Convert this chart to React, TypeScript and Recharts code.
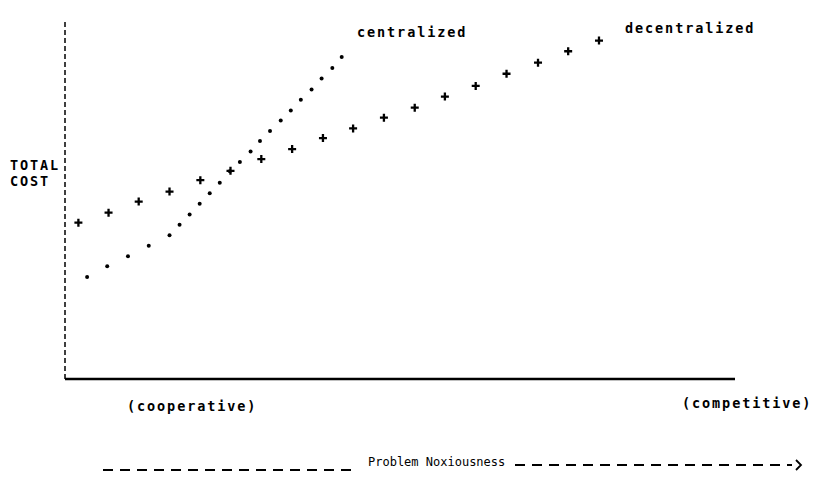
import { ScatterChart, Scatter, XAxis, YAxis, ReferenceLine } from "recharts"

// x positions along "problem noxiousness" (0-100), y = total cost (0-100)
const decentralizedX = [2.0, 6.5, 11.0, 15.6, 20.2, 24.7, 29.3, 33.9, 38.5, 43.0, 47.6, 52.2, 56.7, 61.3, 65.9, 70.6, 75.1, 79.7]
const decentralizedY = [43.8, 46.6, 49.7, 52.5, 55.7, 58.3, 61.6, 64.4, 67.5, 70.2, 73.2, 76.0, 79.1, 82.1, 85.5, 88.6, 91.8, 94.8]

const centralizedX = [3.3, 6.3, 9.4, 12.5, 15.6, 17.1, 18.6, 20.1, 21.6, 23.1, 24.6, 26.1, 27.7, 29.1, 30.6, 32.2, 33.7, 35.2, 36.8, 38.3, 39.9, 41.3]
const centralizedY = [28.6, 31.6, 34.4, 37.3, 40.3, 43.2, 46.1, 49.1, 52.0, 55.0, 58.2, 60.8, 63.7, 66.7, 69.5, 72.4, 75.2, 78.2, 81.1, 84.2, 87.1, 90.2]

const decentralized = decentralizedX.map((x, i) => ({ x, y: decentralizedY[i] }))
const centralized = centralizedX.map((x, i) => ({ x, y: centralizedY[i] }))

const font = "'DejaVu Sans Mono', monospace"

const Plus = (p: any) => (
  <path
    d={`M${p.cx - 4},${p.cy} H${p.cx + 4} M${p.cx},${p.cy - 4} V${p.cy + 4}`}
    stroke="#000"
    strokeWidth={2.3}
  />
)

const Dot = (p: any) => <circle cx={p.cx} cy={p.cy} r={2} fill="#000" />

const Label = ({ x, y, children, plain }: any) => (
  <text
    x={x}
    y={y}
    dominantBaseline="central"
    fontFamily={font}
    fontWeight={plain ? "normal" : "bold"}
    fontSize={plain ? 12 : 13.5}
    letterSpacing={plain ? 0 : 1.9}
    fill="#000"
  >
    {children}
  </text>
)

export default function App() {
  return (
    <div style={{ position: "absolute", left: 0, top: 0, width: 814, height: 484, background: "#fff" }}>
      <ScatterChart width={814} height={484} margin={{ top: 22, right: 79, bottom: 105, left: 65 }}>
        <XAxis type="number" dataKey="x" domain={[0, 100]} hide />
        <YAxis type="number" dataKey="y" domain={[0, 100]} hide />
        <ReferenceLine x={0} stroke="#000" strokeWidth={1.5} strokeDasharray="5 3" />
        <ReferenceLine y={0} stroke="#000" strokeWidth={2.5} />
        <Scatter data={centralized} shape={Dot} isAnimationActive={false} />
        <Scatter data={decentralized} shape={Plus} isAnimationActive={false} />
      </ScatterChart>
      <svg width={814} height={484} style={{ position: "absolute", left: 0, top: 0, pointerEvents: "none" }}>
        <Label x={10} y={165}>TOTAL</Label>
        <Label x={10} y={181}>COST</Label>
        <Label x={357} y={32}>centralized</Label>
        <Label x={625} y={28}>decentralized</Label>
        <Label x={127} y={406}>(cooperative)</Label>
        <Label x={682} y={403}>(competitive)</Label>
        <Label x={368} y={462} plain>Problem Noxiousness</Label>
        <line x1={103} y1={470} x2={357} y2={470} stroke="#000" strokeWidth={1.8} strokeDasharray="10 7" />
        <line x1={515} y1={465} x2={792} y2={465} stroke="#000" strokeWidth={1.8} strokeDasharray="10 7" />
        <path d="M796,460 L801,465 L796,470" fill="none" stroke="#000" strokeWidth={1.8} />
      </svg>
    </div>
  )
}
